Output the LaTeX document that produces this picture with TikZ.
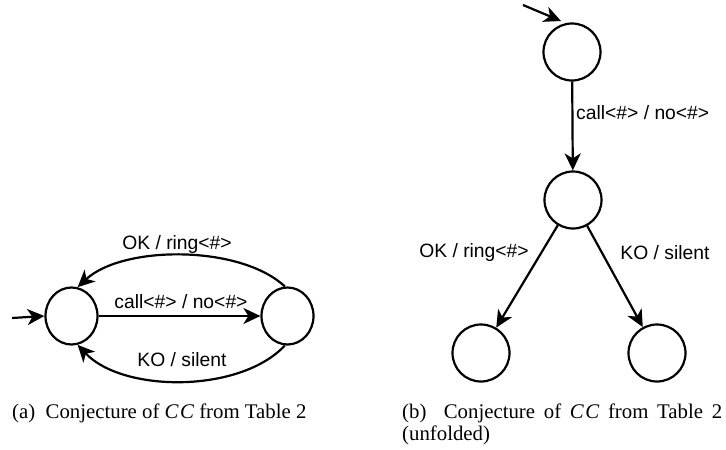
\documentclass[tikz,border=0pt]{standalone}
\usepackage{fontspec}
\setmainfont{Liberation Serif}
\newfontfamily\labfont{Liberation Sans}
\usetikzlibrary{arrows.meta,shapes.geometric}
\begin{document}
\begin{tikzpicture}[x=1pt,y=-1pt,
  state/.style={ellipse,draw,line width=2.2pt,inner sep=0pt,minimum width=#1,minimum height=57pt},
  state/.default=52pt,
  edge/.style={line width=2.2pt,-{Stealth[length=17pt,width=16pt,inset=5pt]}},
  lab/.style={font=\labfont\fontsize{19.3}{22}\selectfont,inner sep=0pt},
  captext/.style={font=\fontsize{20.8}{24}\selectfont,inner sep=0pt,anchor=west}]
\useasboundingbox (0,0) rectangle (726,450);
% ---------- (a) ----------
\node[state] (a0) at (71.5,316) {};
\node[state] (a1) at (287.5,316) {};
\coordinate (ai) at (12,318);
\draw[edge] (ai) -- (a0.west);
\draw[edge] (a0.east) -- (a1.west);
\draw[edge] (a1.95) .. controls +(-45,-42) and +(45,-42) .. (a0.78);
\draw[edge] (a1.-95) .. controls +(-45,48) and +(45,48) .. (a0.-78);
\node[lab] (la1) at (177,245) {OK / ring<\#>};
\node[lab] (la2) at (181,302) {call<\#> / no<\#>};
\node[lab] (la3) at (182,360) {KO / silent};
\node[captext] (capa) at (12,413) {(a)\ \ Conjecture of \textit{C\kern1.5pt C} from Table 2};
% ---------- (b) ----------
\node[state=57pt] (b0) at (572,52) {};
\node[state=57pt] (b1) at (573,200) {};
\node[state=57pt] (b2) at (481,353) {};
\node[state=57pt] (b3) at (657,353) {};
\coordinate (bs) at (523,5);
\coordinate (be) at (561,21);
\draw[edge] (bs) -- (be);
\draw[edge] (b0) -- (b1);
\draw[edge] (b1) -- (b2);
\draw[edge] (b1) -- (b3);
\node[lab,anchor=west] (lb1) at (576,113) {call<\#> / no<\#>};
\node[lab] (lb2) at (474,253) {OK / ring<\#>};
\node[lab] (lb3) at (665,253) {KO / silent};
\node[captext] (capb) at (402,413) {\makebox[320pt][s]{(b)\ \ Conjecture of \textit{C\kern1.5pt C} from Table 2}};
\node[captext] (capb2) at (402,435) {(unfolded)};
\end{tikzpicture}
\end{document}
